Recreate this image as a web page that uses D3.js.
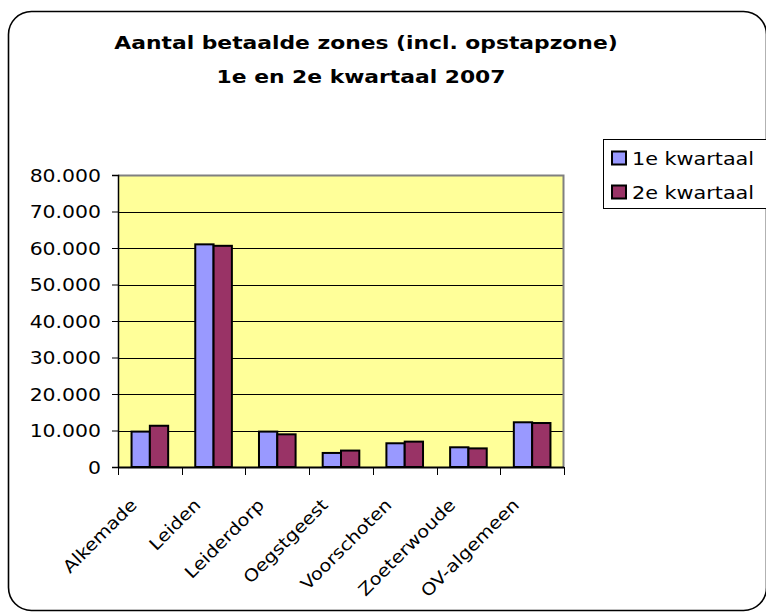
<!DOCTYPE html>
<html lang="nl">
<head>
<meta charset="utf-8">
<style>
  body { margin: 0; background: #fff; }
  text { font-family: "DejaVu Sans", Verdana, sans-serif; fill: #000; }
  .title { font-weight: bold; font-size: 18.5px; }
  .tick-label { font-size: 17px; }
  .cat-label { font-size: 17px; }
  .legend-label { font-size: 17.3px; }
</style>
</head>
<body>
<script src="https://cdn.jsdelivr.net/npm/d3@7"></script>
<script>
// data
var gemeenten = ["Alkemade", "Leiden", "Leiderdorp", "Oegstgeest", "Voorschoten", "Zoeterwoude", "OV-algemeen"];
var series = ["1e kwartaal", "2e kwartaal"];
var kwartaal1 = [9700, 61000, 9700, 3850, 6500, 5400, 12250];
var kwartaal2 = [11300, 60600, 8950, 4500, 6950, 5100, 12050];
var yTicks = [0, 10000, 20000, 30000, 40000, 50000, 60000, 70000, 80000];
var colors = ["#9999FF", "#993366"];

var W = 766, H = 612;
var plot = {left: 118, right: 564, top: 175, bottom: 467};
var stretch = "scale(1.2,1)"; // text in the original is drawn wide

var nl = d3.formatLocale({decimal: ",", thousands: ".", grouping: [3], currency: ["€", ""]});
var fmt = nl.format(",.0f");

var svg = d3.select("body").append("svg")
  .attr("width", W)
  .attr("height", H);

// outer frame
svg.append("rect")
  .attr("x", 8.5).attr("y", 11.5)
  .attr("width", 758).attr("height", 599)
  .attr("rx", 23).attr("ry", 23)
  .attr("fill", "#fff")
  .attr("stroke", "#000")
  .attr("stroke-width", 1.6);

// title
svg.append("text").attr("class", "title")
  .attr("transform", "translate(366,49) scale(1.18,1)")
  .attr("text-anchor", "middle")
  .text("Aantal betaalde zones (incl. opstapzone)");
svg.append("text").attr("class", "title")
  .attr("transform", "translate(361,83) scale(1.18,1)")
  .attr("text-anchor", "middle")
  .text("1e en 2e kwartaal 2007");

// scales
var x0 = d3.scaleBand().domain(gemeenten).range([plot.left, plot.right]);
var x1 = d3.scaleBand().domain(series).range([0, x0.bandwidth()])
  .paddingInner(0).paddingOuter(0.74);
var y = d3.scaleLinear().domain([0, 80000]).range([plot.bottom, plot.top]);

// plot background
svg.append("rect")
  .attr("x", plot.left).attr("y", plot.top)
  .attr("width", plot.right - plot.left).attr("height", plot.bottom - plot.top)
  .attr("fill", "#FFFF99");

// gridlines
svg.append("g").selectAll("line")
  .data(yTicks.slice(1, -1))
  .enter().append("line")
  .attr("x1", plot.left).attr("x2", plot.right)
  .attr("y1", function(d) { return Math.round(y(d)) + 0.5; })
  .attr("y2", function(d) { return Math.round(y(d)) + 0.5; })
  .attr("stroke", "#000").attr("stroke-width", 1);

// plot border top/right (grey)
svg.append("path")
  .attr("d", "M" + plot.left + "," + (plot.top + 0.5) + "H" + (plot.right - 0.5) + "V" + plot.bottom)
  .attr("fill", "none").attr("stroke", "#808080").attr("stroke-width", 2);

// bars
var values = [kwartaal1, kwartaal2];
var groups = svg.append("g").selectAll("g")
  .data(gemeenten)
  .enter().append("g")
  .attr("transform", function(d) { return "translate(" + x0(d) + ",0)"; });

groups.selectAll("rect")
  .data(function(d, i) { return series.map(function(s, j) { return {s: s, v: values[j][i], j: j}; }); })
  .enter().append("rect")
  .attr("x", function(d) { return x1(d.s); })
  .attr("width", x1.bandwidth())
  .attr("y", function(d) { return y(d.v); })
  .attr("height", function(d) { return y(0) - y(d.v); })
  .attr("fill", function(d) { return colors[d.j]; })
  .attr("stroke", "#000")
  .attr("stroke-width", 2);

// y axis
var yAxis = svg.append("g")
  .attr("transform", "translate(" + plot.left + ",0)")
  .call(d3.axisLeft(y).tickValues(yTicks).tickFormat(fmt).tickSize(6).tickPadding(11));
yAxis.select(".domain").attr("stroke", "#000").attr("stroke-width", 1.5);
yAxis.selectAll(".tick line").attr("stroke", "#000");
yAxis.selectAll(".tick text")
  .attr("class", "tick-label")
  .attr("font-family", null).attr("font-size", null)
  .attr("x", 0)
  .attr("transform", "translate(-17,0) " + stretch)
  .attr("dy", "0.36em");

// x axis with ticks at category boundaries
var xAxisG = svg.append("g")
  .attr("transform", "translate(0," + plot.bottom + ")");
xAxisG.append("line")
  .attr("x1", plot.left).attr("x2", plot.right)
  .attr("y1", 0.5).attr("y2", 0.5)
  .attr("stroke", "#000").attr("stroke-width", 2);
var bounds = gemeenten.map(function(d) { return x0(d); }).concat([plot.right]);
xAxisG.selectAll(".bt")
  .data(bounds)
  .enter().append("line")
  .attr("class", "bt")
  .attr("x1", function(d) { return Math.round(d) + 0.5; })
  .attr("x2", function(d) { return Math.round(d) + 0.5; })
  .attr("y1", 0).attr("y2", 8)
  .attr("stroke", "#000");

// category labels at 45 degrees
xAxisG.selectAll(".xl")
  .data(gemeenten)
  .enter().append("text")
  .attr("class", "cat-label")
  .attr("text-anchor", "end")
  .attr("transform", function(d) {
    return "translate(" + (x0(d) + x0.bandwidth() / 2 - 12) + ",39) rotate(-45) scale(1.14,1)";
  })
  .text(function(d) { return d; });

// legend
var legend = svg.append("g");
legend.append("rect")
  .attr("x", 603.5).attr("y", 139.5)
  .attr("width", 180).attr("height", 69)
  .attr("fill", "#fff").attr("stroke", "#000").attr("stroke-width", 1);
var items = legend.selectAll(".li")
  .data(series)
  .enter().append("g")
  .attr("transform", function(d, i) { return "translate(0," + (i * 34) + ")"; });
items.append("rect")
  .attr("x", 612).attr("y", 151.5)
  .attr("width", 14).attr("height", 13)
  .attr("fill", function(d, i) { return colors[i]; })
  .attr("stroke", "#000").attr("stroke-width", 2);
items.append("text")
  .attr("class", "legend-label")
  .attr("transform", "translate(632,165) " + stretch)
  .text(function(d) { return d; });
</script>
</body>
</html>
